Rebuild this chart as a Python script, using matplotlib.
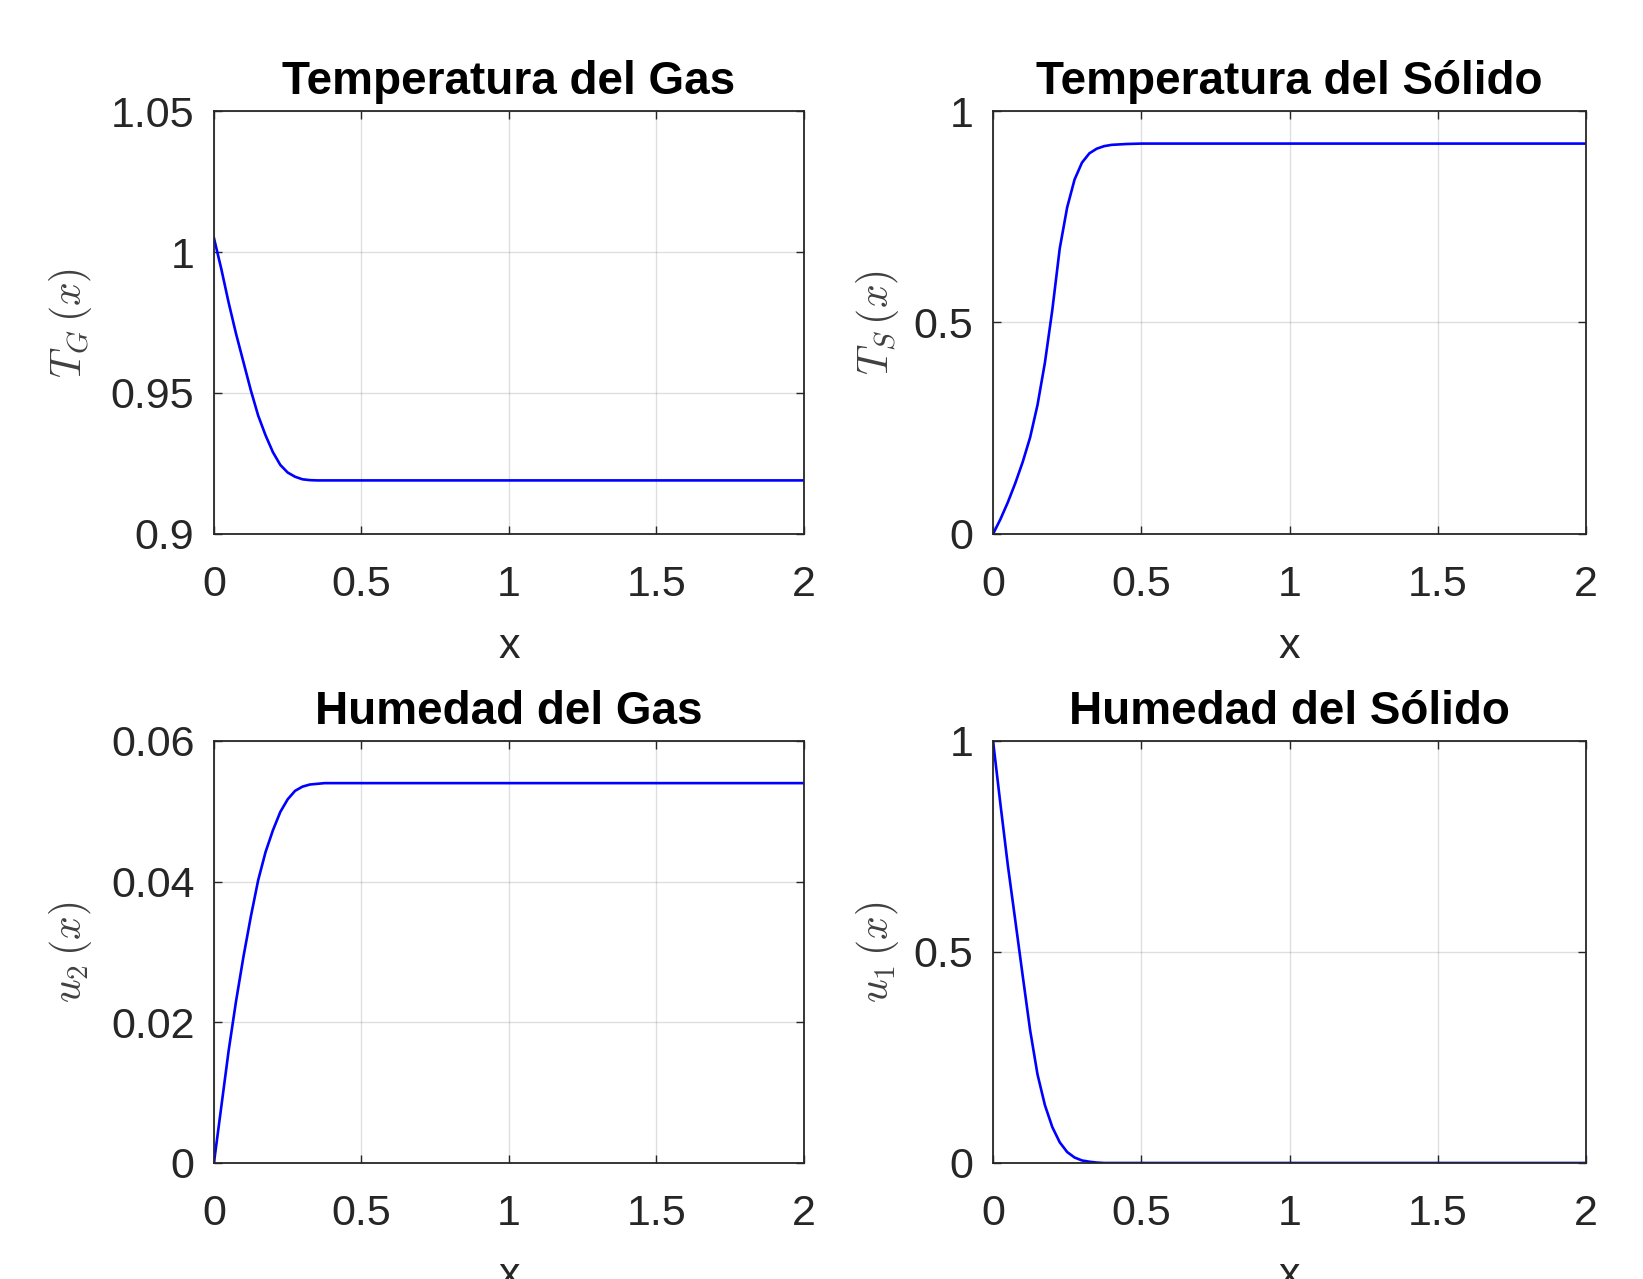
import numpy as np
import matplotlib
matplotlib.use("Agg")
import matplotlib.pyplot as plt

# ==========================================================
# DATA
# ==========================================================
x_vals = [0.0, 0.025, 0.05, 0.075, 0.1, 0.125, 0.15, 0.175, 0.2, 0.225,
          0.25, 0.275, 0.3, 0.325, 0.35, 0.375, 0.4, 0.45, 0.5, 1.0, 1.5, 2.0]

T_gas = [1.005, 0.994, 0.982, 0.971, 0.961, 0.951, 0.942, 0.935, 0.929, 0.9245,
         0.9218, 0.9203, 0.9194, 0.9191, 0.919, 0.919, 0.919, 0.919, 0.919, 0.919, 0.919, 0.919]

T_solid = [0.0, 0.035, 0.075, 0.12, 0.17, 0.228, 0.305, 0.405, 0.53, 0.675,
           0.772, 0.838, 0.878, 0.900, 0.911, 0.917, 0.920, 0.922, 0.923, 0.923, 0.923, 0.923]

u2_gas = [0.0, 0.008, 0.016, 0.023, 0.0293, 0.035, 0.0402, 0.0442, 0.0473, 0.0499,
          0.0517, 0.0529, 0.0535, 0.0538, 0.0539, 0.054, 0.054, 0.054, 0.054, 0.054, 0.054, 0.054]

u1_solid = [1.0, 0.85, 0.705, 0.575, 0.444, 0.315, 0.21, 0.137, 0.085, 0.049,
            0.026, 0.013, 0.006, 0.003, 0.001, 0.0, 0.0, 0.0, 0.0, 0.0, 0.0, 0.0]

titles = ["Temperatura del Gas", "Temperatura del Sólido",
          "Humedad del Gas", "Humedad del Sólido"]
ylabels = [r"$T_G\,(x)$", r"$T_S\,(x)$", r"$u_2\,(x)$", r"$u_1\,(x)$"]
series = [T_gas, T_solid, u2_gas, u1_solid]

x_ticks = [0, 0.5, 1, 1.5, 2]
x_ticklabels = ["0", "0.5", "1", "1.5", "2"]
y_ticks = [[0.9, 0.95, 1.0, 1.05], [0, 0.5, 1], [0, 0.02, 0.04, 0.06], [0, 0.5, 1]]
y_ticklabels = [["0.9", "0.95", "1", "1.05"], ["0", "0.5", "1"],
                ["0", "0.02", "0.04", "0.06"], ["0", "0.5", "1"]]
y_limits = [(0.9, 1.05), (0, 1), (0, 0.06), (0, 1)]

# ==========================================================
# STYLE
# ==========================================================
plt.rcParams["font.family"] = ["Liberation Sans", "DejaVu Sans"]
plt.rcParams["mathtext.fontset"] = "cm"

TXT = "#262626"

fig = plt.figure(figsize=(16.43, 12.79), dpi=100)

# axes rectangles in figure fraction (left, bottom, width, height)
rects = [
    [0.1302, 0.5825, 0.3591, 0.3307],
    [0.6044, 0.5825, 0.3609, 0.3307],
    [0.1302, 0.0907, 0.3591, 0.3300],
    [0.6044, 0.0907, 0.3609, 0.3300],
]
ylabel_x = [-0.203, -0.155, -0.203, -0.155]

for i in range(4):
    ax = fig.add_axes(rects[i])
    ax.plot(x_vals, series[i], color="#0000ff", linewidth=1.9)

    ax.set_xlim(0, 2)
    ax.set_ylim(*y_limits[i])
    ax.set_xticks(x_ticks)
    ax.set_xticklabels(x_ticklabels)
    ax.set_yticks(y_ticks[i])
    ax.set_yticklabels(y_ticklabels[i])

    ax.grid(True, color="#262626", alpha=0.15, linewidth=1.0)
    ax.tick_params(direction="in", length=6, width=1.0, top=True, right=True,
                   labelsize=31, colors=TXT)
    ax.tick_params(axis="x", pad=22)
    ax.tick_params(axis="y", pad=14)
    for sp in ax.spines.values():
        sp.set_color(TXT)
        sp.set_linewidth(1.3)

    ax.set_title(titles[i], fontsize=33, fontweight="bold", color="black", pad=12)
    ax.set_xlabel("x", fontsize=31, color=TXT, labelpad=16)
    ax.set_ylabel(ylabels[i], fontsize=30, color="#404040")
    ax.yaxis.set_label_coords(ylabel_x[i], 0.5)

fig.savefig("out.png", dpi=100)
